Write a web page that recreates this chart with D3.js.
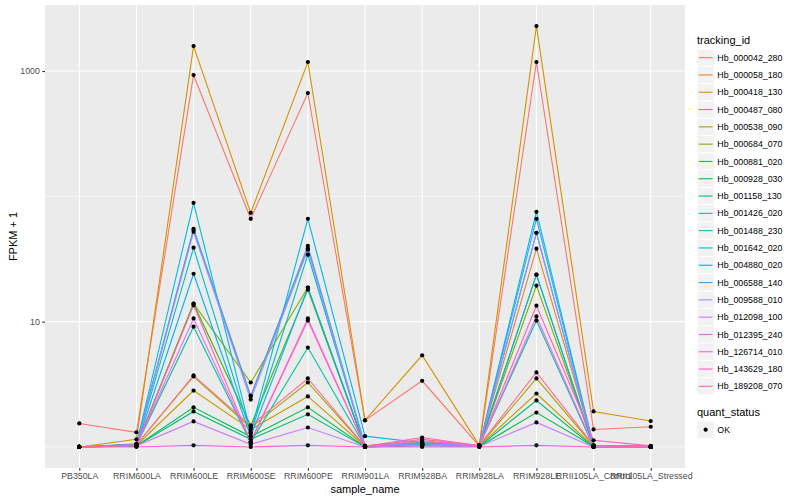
<!DOCTYPE html>
<html>
<head>
<meta charset="utf-8">
<script src="https://cdn.jsdelivr.net/npm/d3@7"></script>
<style>
  body { margin: 0; background: #fff; }
  svg text { font-family: "Liberation Sans", Arial, sans-serif; }
</style>
</head>
<body>
<svg id="svg"></svg>
<script>
// sample names on the x axis
let sampleNames = ["PB350LA", "RRIM600LA", "RRIM600LE", "RRIM600SE", "RRIM600PE", "RRIM901LA",
    "RRIM928BA", "RRIM928LA", "RRIM928LE", "RRII105LA_Control", "RRII105LA_Stressed"];

let trackingIds = ["Hb_000042_280", "Hb_000058_180", "Hb_000418_130", "Hb_000487_080", "Hb_000538_090",
    "Hb_000684_070", "Hb_000881_020", "Hb_000928_030", "Hb_001158_130", "Hb_001426_020",
    "Hb_001488_230", "Hb_001642_020", "Hb_004880_020", "Hb_006588_140", "Hb_009588_010",
    "Hb_012098_100", "Hb_012395_240", "Hb_126714_010", "Hb_143629_180", "Hb_189208_070"];

// FPKM + 1, one row per tracking id, one column per sample
let fpkmPlus1 = [
    [1.54, 1.31, 929, 66.2, 668, 1.63, 3.37, 1.02, 1180, 1.38, 1.45],
    [1.0, 1.06, 54, 2.57, 38.5, 1.02, 1.10, 1.02, 38.2, 1.03, 1.01],
    [1.0, 1.15, 1581, 73.8, 1180, 1.63, 5.39, 1.03, 2285, 1.92, 1.61],
    [1.0, 1.03, 2.82, 1.38, 2.53, 1.01, 1.05, 1.02, 2.67, 1.01, 1.0],
    [1.0, 1.04, 3.65, 1.43, 3.27, 1.01, 1.08, 1.02, 3.52, 1.02, 1.01],
    [1.0, 1.03, 13.9, 3.27, 18.7, 1.01, 1.05, 1.02, 19.4, 1.02, 1.0],
    [1.0, 1.02, 13.9, 1.48, 18.0, 1.0, 1.04, 1.01, 23.7, 1.01, 1.0],
    [1.0, 1.02, 2.07, 1.21, 2.07, 1.0, 1.03, 1.01, 1.88, 1.01, 1.0],
    [1.0, 1.02, 1.92, 1.15, 1.82, 1.0, 1.03, 1.01, 2.35, 1.0, 1.0],
    [1.0, 1.03, 9.12, 1.09, 6.21, 1.01, 1.04, 1.02, 10.2, 1.0, 1.0],
    [1.0, 1.04, 38.9, 1.28, 34.2, 1.02, 1.06, 1.02, 51.2, 1.01, 1.0],
    [1.0, 1.05, 88.7, 1.31, 66.2, 1.22, 1.08, 1.02, 75.2, 1.02, 1.01],
    [1.0, 1.03, 24.1, 1.21, 18.7, 1.01, 1.05, 1.01, 23.7, 1.0, 1.0],
    [1.0, 1.05, 55.1, 2.53, 40.3, 1.02, 1.07, 1.02, 66.2, 1.02, 1.01],
    [1.0, 1.04, 52.1, 2.39, 37.5, 1.02, 1.06, 1.02, 51.2, 1.01, 1.0],
    [1.0, 1.02, 1.6, 1.05, 1.43, 1.0, 1.03, 1.01, 1.57, 1.0, 1.0],
    [1.0, 1.03, 10.6, 1.1, 10.6, 1.01, 1.12, 1.02, 11.0, 1.02, 1.0],
    [1.0, 1.0, 1.03, 1.0, 1.03, 1.0, 1.0, 1.0, 1.03, 1.0, 1.0],
    [1.0, 1.03, 13.5, 1.1, 10.2, 1.01, 1.19, 1.02, 13.4, 1.13, 1.02],
    [1.0, 1.04, 3.72, 1.48, 3.52, 1.01, 1.15, 1.03, 3.93, 1.03, 1.01]
];

let yTicks = [10, 1000];
let yMinorTicks = [1, 100];
let statusLevels = ["OK"];

// ggplot default hue palette for 20 levels
let palette = ["#F8766D", "#EA8331", "#D89000", "#C09B00", "#A3A500", "#7CAE00", "#39B600", "#00BB4E",
    "#00BF7D", "#00C1A3", "#00BFC4", "#00BAE0", "#00B0F6", "#35A2FF", "#9590FF", "#C77CFF",
    "#E76BF3", "#FA62DB", "#FF62BC", "#FF6C91"];

const width = 800;
const height = 500;
const margin = { top: 5, right: 115, bottom: 32, left: 45 };

let svg = d3.select("#svg").attr("width", width).attr("height", height);

let chartWidth = width - margin.left - margin.right;
let chartHeight = height - margin.top - margin.bottom;

let xScale = d3.scalePoint()
    .domain(sampleNames)
    .range([0, chartWidth])
    .padding(0.6);

// log scale with ggplot's 5% expansion
let logMin = Math.log10(d3.min(fpkmPlus1, r => d3.min(r)));
let logMax = Math.log10(d3.max(fpkmPlus1, r => d3.max(r)));
let pad = (logMax - logMin) * 0.05;
let yScale = d3.scaleLog()
    .domain([Math.pow(10, logMin - pad), Math.pow(10, logMax + pad)])
    .range([chartHeight, 0]);

let colorScale = d3.scaleOrdinal().domain(trackingIds).range(palette);

let chart = svg.append("g")
    .attr("transform", `translate(${margin.left},${margin.top})`);

// panel background and grid
chart.append("rect")
    .attr("width", chartWidth)
    .attr("height", chartHeight)
    .attr("fill", "#EBEBEB");

chart.selectAll(".minor-grid")
    .data(yMinorTicks)
    .enter().append("line")
    .attr("x1", 0).attr("x2", chartWidth)
    .attr("y1", d => yScale(d)).attr("y2", d => yScale(d))
    .attr("stroke", "#fff").attr("stroke-width", 0.55);

chart.selectAll(".major-grid")
    .data(yTicks)
    .enter().append("line")
    .attr("x1", 0).attr("x2", chartWidth)
    .attr("y1", d => yScale(d)).attr("y2", d => yScale(d))
    .attr("stroke", "#fff").attr("stroke-width", 1.1);

chart.selectAll(".x-grid")
    .data(sampleNames)
    .enter().append("line")
    .attr("x1", d => xScale(d)).attr("x2", d => xScale(d))
    .attr("y1", 0).attr("y2", chartHeight)
    .attr("stroke", "#fff").attr("stroke-width", 1.1);

// lines
let line = d3.line()
    .x((d, i) => xScale(sampleNames[i]))
    .y(d => yScale(d));

chart.selectAll(".series")
    .data(fpkmPlus1)
    .enter().append("path")
    .attr("d", d => line(d))
    .attr("fill", "none")
    .attr("stroke", (d, i) => colorScale(trackingIds[i]))
    .attr("stroke-width", 1.1);

// points
let pts = [];
fpkmPlus1.forEach((row, i) => row.forEach((v, j) => pts.push({ s: sampleNames[j], v: v })));
chart.selectAll(".pt")
    .data(pts)
    .enter().append("circle")
    .attr("cx", d => xScale(d.s))
    .attr("cy", d => yScale(d.v))
    .attr("r", 2.1)
    .attr("fill", "#000");

// axes
let xAxis = chart.append("g")
    .attr("transform", `translate(0,${chartHeight})`)
    .call(d3.axisBottom(xScale).tickSize(2.7).tickPadding(2.5));
let yAxis = chart.append("g")
    .call(d3.axisLeft(yScale).tickValues(yTicks).tickFormat(d3.format("d")).tickSize(2.7).tickPadding(2.5));

[xAxis, yAxis].forEach(a => {
    a.select(".domain").remove();
    a.selectAll(".tick line").attr("stroke", "#333333").attr("stroke-width", 1.1);
    a.selectAll(".tick text").attr("fill", "#4D4D4D").style("font-size", "8.8px");
});

// axis titles
svg.append("text")
    .attr("x", margin.left + chartWidth / 2)
    .attr("y", 493)
    .attr("text-anchor", "middle")
    .style("font-size", "11px")
    .text("sample_name");

svg.append("text")
    .attr("transform", `translate(17,${margin.top + chartHeight / 2}) rotate(-90)`)
    .attr("text-anchor", "middle")
    .style("font-size", "11px")
    .text("FPKM + 1");

// legend: tracking_id
let legendX = 697;
let keySize = 17.3;
let legend = svg.append("g").attr("transform", `translate(${legendX},0)`);

legend.append("text")
    .attr("x", 0).attr("y", 44)
    .style("font-size", "11px")
    .text("tracking_id");

let keys = legend.selectAll(".key")
    .data(trackingIds)
    .enter().append("g")
    .attr("transform", (d, i) => `translate(0,${49 + i * keySize})`);

keys.append("rect")
    .attr("width", keySize).attr("height", keySize)
    .attr("fill", "#F2F2F2").attr("stroke", "#fff").attr("stroke-width", 1);

keys.append("line")
    .attr("x1", keySize * 0.1).attr("x2", keySize * 0.9)
    .attr("y1", keySize / 2).attr("y2", keySize / 2)
    .attr("stroke", d => colorScale(d)).attr("stroke-width", 1.1);

keys.append("text")
    .attr("x", keySize + 3).attr("y", keySize / 2)
    .attr("dy", "0.35em")
    .style("font-size", "8.8px")
    .text(d => d);

// legend: quant_status
legend.append("text")
    .attr("x", 0).attr("y", 416)
    .style("font-size", "11px")
    .text("quant_status");

let sKeys = legend.selectAll(".skey")
    .data(statusLevels)
    .enter().append("g")
    .attr("transform", (d, i) => `translate(0,${421 + i * keySize})`);

sKeys.append("rect")
    .attr("width", keySize).attr("height", keySize)
    .attr("fill", "#F2F2F2").attr("stroke", "#fff").attr("stroke-width", 1);

sKeys.append("circle")
    .attr("cx", keySize / 2).attr("cy", keySize / 2)
    .attr("r", 2.1).attr("fill", "#000");

sKeys.append("text")
    .attr("x", keySize + 3).attr("y", keySize / 2)
    .attr("dy", "0.35em")
    .style("font-size", "8.8px")
    .text(d => d);
</script>
</body>
</html>
